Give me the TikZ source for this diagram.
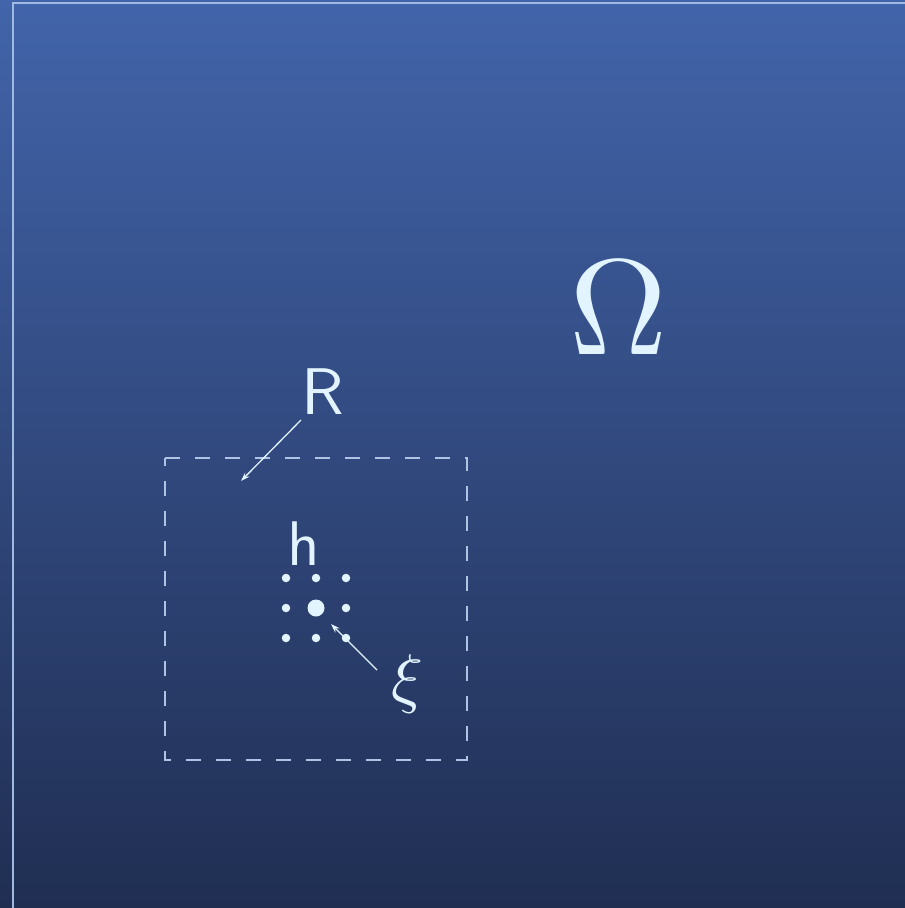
\documentclass[tikz,border=0pt]{standalone}
\usepackage{fontspec}
\usetikzlibrary{arrows.meta}
\definecolor{bgtop}{RGB}{66,100,170}
\definecolor{bgbot}{RGB}{32,46,82}
\definecolor{ink}{RGB}{226,244,255}
\definecolor{frameline}{RGB}{160,185,225}
\definecolor{dashline}{RGB}{175,195,228}
\tikzset{
  lbl/.style={text=ink, inner sep=0pt},
  ptr/.style={draw=ink, line width=1.3pt, -{Stealth[length=9pt,width=6pt]}},
  dot/.style={circle, fill=ink, inner sep=0pt, minimum size=8.5pt},
  bigdot/.style={circle, fill=ink, inner sep=0pt, minimum size=17pt},
}
\begin{document}
\begin{tikzpicture}[x=1pt,y=-1pt]
\useasboundingbox (0,0) rectangle (905,908);
\shade[top color=bgtop, bottom color=bgbot] (0,0) rectangle (905,908);
\draw[frameline, line width=2pt] (13,3) rectangle (925,925);
\draw[dashline, line width=1.9pt, dash pattern=on 15pt off 15pt]
  (165,458) -- (467,458) -- (467,760) -- (165,760) -- cycle;
\node[lbl, scale=13.6] (omega) at (619,308) {$\Omega$};
\node[lbl, font=\sffamily, scale=6.6] (R) at (323,392) {R};
\node[lbl, font=\sffamily, scale=6.3] (h) at (304,544) {h};
\node[lbl, scale=6.6] (xi) at (407,684) {$\xi$};
\foreach \i in {-1,0,1}{\foreach \j in {-1,0,1}{
  \node[dot] (d\i\j) at (316+30*\i,608+30*\j) {};
}}
\node[bigdot] (c) at (316,608) {};
\coordinate (Rs) at (301,420);
\coordinate (Re) at (241,481);
\coordinate (Xs) at (377,670);
\coordinate (Xe) at (331,624);
\draw[ptr] (Rs) -- (Re);
\draw[ptr] (Xs) -- (Xe);
\end{tikzpicture}
\end{document}
